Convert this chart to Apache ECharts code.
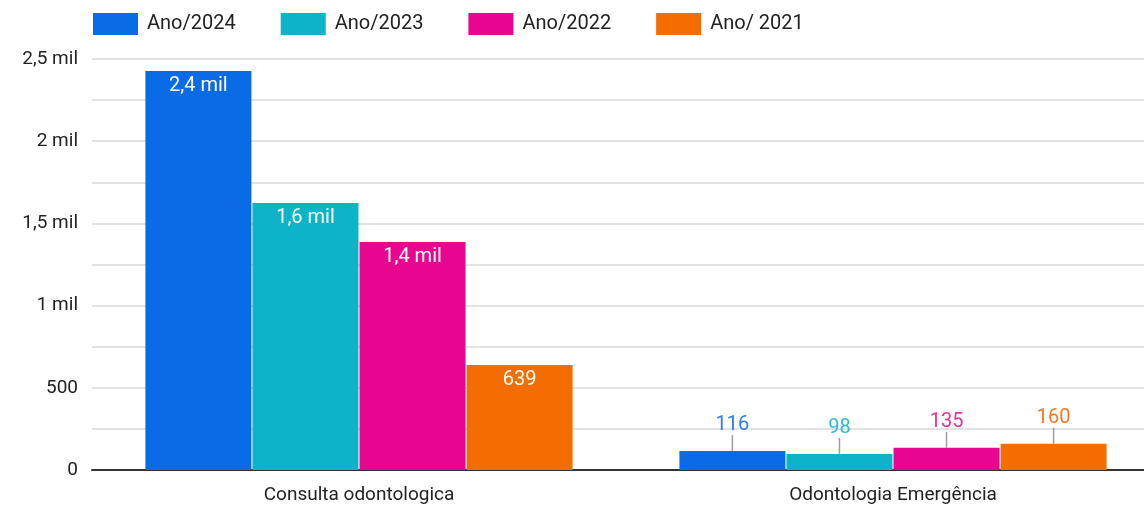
<!DOCTYPE html>
<html><head><meta charset="utf-8">
<script src="https://cdn.jsdelivr.net/npm/echarts@6/dist/echarts.min.js"></script>
<style>html,body{margin:0;padding:0;background:#fff;}#c{width:1144px;height:508px;}</style>
</head><body><div id="c"></div>
<script>
const categories = ['Consulta odontologica', 'Odontologia Emergência'];
const seriesNames = ['Ano/2024', 'Ano/2023', 'Ano/2022', 'Ano/ 2021'];
const ano2024 = [2427, 116];
const ano2023 = [1624, 98];
const ano2022 = [1387, 135];
const ano2021 = [639, 160];
const colors = ['#0a6be6', '#0db4c8', '#e8058f', '#f36d00'];
const labelColors = ['#2f7fe6', '#2cbcd0', '#e5339c', '#ef7a22'];

function fmt(v) {
  if (v >= 1000) {
    const k = v / 1000;
    const s = (Math.round(k * 10) / 10).toString().replace('.', ',');
    return s + ' mil';
  }
  return String(v);
}

const allData = [ano2024, ano2023, ano2022, ano2021];
const series = allData.map((arr, i) => ({
  name: seriesNames[i],
  type: 'bar',
  barGap: '1%',
  barCategoryGap: '20%',
  itemStyle: { color: colors[i] },
  data: arr.map((v, j) => ({
    value: v,
    label: j === 0
      ? { show: true, position: 'insideTop', distance: 5, color: '#fff' }
      : { show: true, position: 'top', distance: 2, color: labelColors[i] }
  })),
  label: { show: true, fontFamily: 'Roboto', fontSize: 20, formatter: p => fmt(p.value) },
  labelLayout: p => p.dataIndex === 1 ? { dy: -14 } : {},
  labelLine: { show: true, lineStyle: { color: '#9e9e9e', width: 1.5 } }
}));

const chart = echarts.init(document.getElementById('c'));
chart.setOption({
  animation: false,
  textStyle: { fontFamily: 'Roboto' },
  legend: {
    top: 8, left: 88,
    itemWidth: 45, itemHeight: 22, itemGap: 45,
    icon: 'rect',
    textStyle: { fontSize: 20, color: '#222', fontFamily: 'Roboto', padding: [0, 0, 0, 4] },
    data: seriesNames
  },
  grid: { left: 92, top: 59, width: 1068, bottom: 38, containLabel: false, outerBoundsMode: 'none' },
  xAxis: {
    type: 'category', data: categories,
    axisTick: { show: false },
    axisLine: { lineStyle: { color: '#333', width: 2 } },
    axisLabel: { fontSize: 19, color: '#222', margin: 16 }
  },
  yAxis: {
    type: 'value', min: 0, max: 2500, interval: 250,
    axisLine: { show: false }, axisTick: { show: false },
    splitLine: { lineStyle: { color: '#d9d9d9', width: 1.5 } },
    axisLabel: {
      fontSize: 19, color: '#222', margin: 14,
      formatter: v => (v % 500 === 0 ? fmt(v) : '')
    }
  },
  series: series
});
</script></body></html>
